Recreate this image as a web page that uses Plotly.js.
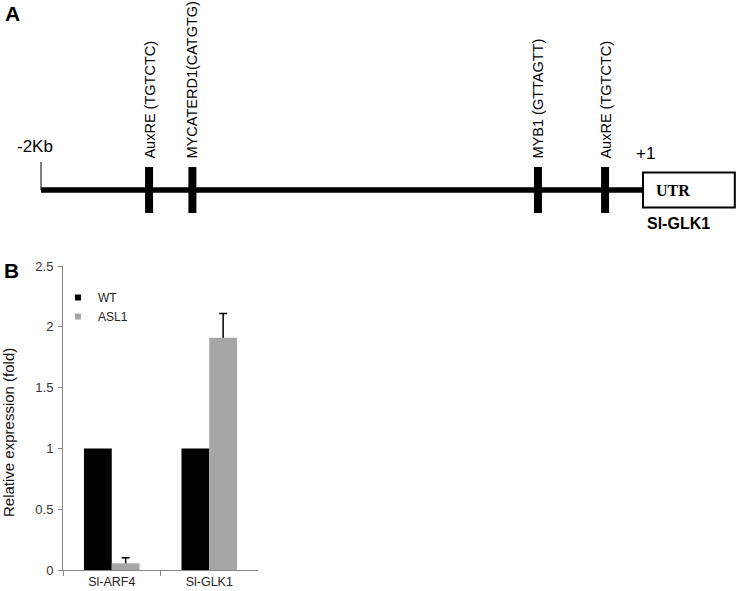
<!DOCTYPE html>
<html>
<head>
<meta charset="utf-8">
<script src="https://cdn.plot.ly/plotly-3.0.1.min.js"></script>
<style>html,body{margin:0;padding:0;background:#fff;}#chart{width:740px;height:591px;}</style>
</head>
<body>
<div id="chart"></div>
<script>
// ---- Panel A: promoter diagram data (positions in bp relative to +1) ----
var promoterStart = -2000;
var tssPosition = 0;
var utrLength = 305;
var motifPositions = [-1641, -1497, -349, -126];
var motifLabels = ['AuxRE (TGTCTC)', 'MYCATERD1(CATGTG)', 'MYB1 (GTTAGTT)', 'AuxRE (TGTCTC)'];
var geneName = 'Sl-GLK1';

// ---- Panel B: qRT-PCR data ----
var categories = ['Sl-ARF4', 'Sl-GLK1'];
var wtValues = [1, 1];
var asl1Values = [0.055, 1.91];
var asl1Errors = [0.045, 0.2];
var seriesNames = ['WT', 'ASL1'];
var yTickValues = [0, 0.5, 1, 1.5, 2, 2.5];
var yTitle = 'Relative expression (fold)';

var W = 740, H = 591;
function px(x) { return x / W; }
function py(y) { return 1 - y / H; }

var FONT = 'Liberation Sans, Arial, sans-serif';
var colWT = '#000000', colASL = '#A6A6A6';

var traces = [
  {type: 'bar', x: categories, y: wtValues, name: seriesNames[0], marker: {color: colWT},
   offsetgroup: 'wt', showlegend: false, hoverinfo: 'none'},
  // error bars for ASL1 (drawn beneath the ASL1 bars so only the upper whisker shows)
  {type: 'bar', x: categories, y: asl1Values, name: seriesNames[1] + ' error', marker: {color: 'rgba(0,0,0,0)'},
   offsetgroup: 'asl',
   error_y: {type: 'data', array: asl1Errors, arrayminus: asl1Errors.map(function(){return 0.02;}), symmetric: false,
             color: '#000', thickness: 1.5, width: 4},
   showlegend: false, hoverinfo: 'none'},
  {type: 'bar', x: categories, y: asl1Values, name: seriesNames[1], marker: {color: colASL},
   offsetgroup: 'asl', showlegend: false, hoverinfo: 'none'},
  // legend swatches
  {type: 'scatter', mode: 'markers', x: [null], y: [null], name: seriesNames[0],
   marker: {symbol: 'square', size: 6, color: colWT}, hoverinfo: 'none'},
  {type: 'scatter', mode: 'markers', x: [null], y: [null], name: seriesNames[1],
   marker: {symbol: 'square', size: 6, color: colASL}, hoverinfo: 'none'},
  // promoter backbone
  {type: 'scatter', mode: 'lines', x: [promoterStart, tssPosition], y: [0, 0],
   line: {color: '#000', width: 5.5}, xaxis: 'x2', yaxis: 'y2', showlegend: false, hoverinfo: 'none'}
];

var shapes = [];
shapes.push({type: 'line', xref: 'x2', yref: 'y2', x0: promoterStart, x1: promoterStart, y0: 0, y1: 28,
             line: {color: '#000', width: 1}});
motifPositions.forEach(function(p) {
  shapes.push({type: 'line', xref: 'x2', yref: 'y2', x0: p, x1: p, y0: -23, y1: 23,
               line: {color: '#000', width: 8}});
});
shapes.push({type: 'rect', xref: 'x2', yref: 'y2', x0: tssPosition, x1: tssPosition + utrLength, y0: -17.5, y1: 17.5,
             line: {color: '#000', width: 2}, fillcolor: '#fff'});

var annotations = [];
motifPositions.forEach(function(p, i) {
  annotations.push({xref: 'x2', yref: 'y2', x: p, y: 29.5, text: motifLabels[i], showarrow: false,
                    textangle: -90, xanchor: 'center', yanchor: 'bottom',
                    font: {family: FONT, size: 14.5, color: '#000'}});
});
annotations.push({xref: 'x2', yref: 'y2', x: promoterStart, y: 44, text: '-2Kb', showarrow: false,
                  xanchor: 'center', yanchor: 'middle', xshift: -6, font: {family: FONT, size: 17, color: '#000'}});
annotations.push({xref: 'x2', yref: 'y2', x: tssPosition, y: 37, text: '+1', showarrow: false,
                  xanchor: 'center', yanchor: 'middle', xshift: 2, font: {family: FONT, size: 17, color: '#000'}});
annotations.push({xref: 'x2', yref: 'y2', x: tssPosition, y: 0, text: '<b>UTR</b>', showarrow: false,
                  xanchor: 'left', yanchor: 'middle', xshift: 11, font: {family: 'Liberation Serif, Times New Roman, serif', size: 16, color: '#000'}});
annotations.push({xref: 'x2', yref: 'y2', x: tssPosition, y: -33, text: '<b>' + geneName + '</b>', showarrow: false,
                  xanchor: 'left', yanchor: 'middle', xshift: 2, font: {family: FONT, size: 16, color: '#000'}});
annotations.push({xref: 'paper', yref: 'paper', x: px(3), y: py(14), text: '<b>A</b>', showarrow: false,
                  xanchor: 'left', yanchor: 'middle', font: {family: FONT, size: 21, color: '#000'}});
annotations.push({xref: 'paper', yref: 'paper', x: px(2), y: py(270), text: '<b>B</b>', showarrow: false,
                  xanchor: 'left', yanchor: 'middle', font: {family: FONT, size: 21, color: '#000'}});
// y-axis title of panel B
annotations.push({xref: 'paper', yref: 'paper', x: px(8.5), y: py(432.5), text: yTitle, showarrow: false,
                  textangle: -90, xanchor: 'center', yanchor: 'middle',
                  font: {family: FONT, size: 15, color: '#111'}});

var pxPerBp = 602 / 2000;
var layout = {
  width: W, height: H,
  margin: {l: 0, r: 0, t: 0, b: 0},
  paper_bgcolor: '#fff', plot_bgcolor: 'rgba(0,0,0,0)',
  font: {family: FONT},
  barmode: 'group', bargap: 0.43, bargroupgap: 0,
  showlegend: true,
  legend: {x: px(58), y: py(283), xanchor: 'left', yanchor: 'top', bgcolor: 'rgba(0,0,0,0)',
           font: {family: FONT, size: 12, color: '#222'}, tracegroupgap: 0},
  xaxis: {domain: [px(63), px(258)], anchor: 'y', type: 'category',
          showline: true, linecolor: '#868686', linewidth: 1,
          ticks: 'outside', tickson: 'boundaries', ticklen: 5, tickcolor: '#868686',
          tickfont: {family: FONT, size: 12.5, color: '#222'}, showgrid: false, zeroline: false, fixedrange: true},
  yaxis: {domain: [py(570), py(266)], anchor: 'x', range: [0, 2.5], tickvals: yTickValues,
          showline: true, linecolor: '#868686', linewidth: 1,
          ticks: 'outside', ticklen: 4, tickcolor: '#868686', ticklabelstandoff: 2,
          tickfont: {family: FONT, size: 13, color: '#333'}, showgrid: false, zeroline: false,
          fixedrange: true},
  xaxis2: {domain: [0, 1], anchor: 'y2', range: [promoterStart - 41 / pxPerBp, tssPosition + 97 / pxPerBp],
           visible: false, fixedrange: true},
  yaxis2: {domain: [0.55, 1], anchor: 'x2', range: [190 - 0.45 * H, 190], visible: false, fixedrange: true},
  shapes: shapes,
  annotations: annotations
};

Plotly.newPlot('chart', traces, layout, {displayModeBar: false, staticPlot: true});
</script>
</body>
</html>
